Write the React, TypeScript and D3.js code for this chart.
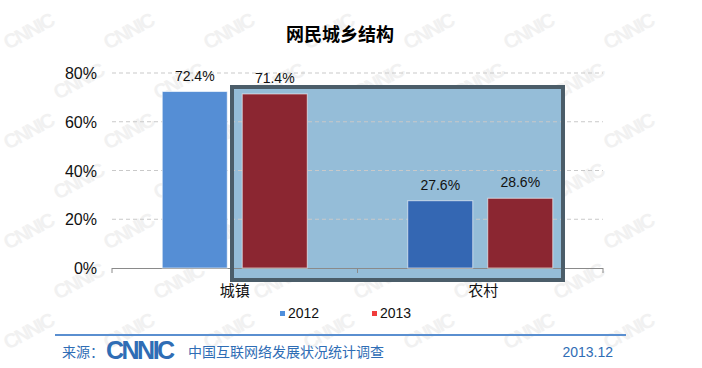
import { useEffect, useRef } from 'react';
import * as d3 from 'd3';

const categories = ['城镇', '农村'];
const years = ['2012', '2013'];
const values2012 = [0.724, 0.276];
const values2013 = [0.714, 0.286];
const yTicks = [0, 0.2, 0.4, 0.6, 0.8];

const W = 702;
const H = 368;
const FONT = '"Liberation Sans", Arial, "Noto Sans CJK SC", sans-serif';
const CJK = '"Noto Sans CJK SC", "Liberation Sans", sans-serif';

const App = () => {
  const ref = useRef<SVGSVGElement>(null);

  useEffect(() => {
    const svg = d3.select(ref.current);
    svg.selectAll('*').remove();

    // faint watermark pattern, kept inside the picture
    const wm = svg.append('g').attr('fill', '#f1f1f1').style('font-family', FONT);
    for (let row = 0; row < 7; row++) {
      for (let col = 0; col < 7; col++) {
        const x = col * 100 + (row % 2) * 50 + 8;
        const y = row * 50 + 50;
        if (x > 610 || y > 360) continue;
        wm.append('text')
          .attr('transform', `translate(${x},${y}) rotate(-28)`)
          .attr('font-size', 20)
          .attr('font-weight', 900)
          .attr('letter-spacing', -2)
          .text('CNNIC');
      }
    }

    const x0 = d3.scaleBand().domain(categories).range([112, 603]);
    const x1 = d3.scaleBand().domain(years).range([-72.5, 72.5]).paddingInner(0.1875);
    const y = d3.scaleLinear().domain([0, 0.8]).range([268, 73]);

    // highlight box fill
    svg.append('rect')
      .attr('x', 232).attr('y', 87)
      .attr('width', 331).attr('height', 193)
      .attr('fill', '#95bdd8');

    // grid
    svg.append('g')
      .selectAll('line')
      .data(yTicks.filter((d) => d > 0))
      .join('line')
      .attr('x1', 112).attr('x2', 603)
      .attr('y1', (d) => y(d)).attr('y2', (d) => y(d))
      .attr('stroke', '#c9c9c9')
      .attr('stroke-dasharray', '4,3');

    // y labels
    svg.append('g')
      .selectAll('text')
      .data(yTicks)
      .join('text')
      .attr('x', 97)
      .attr('y', (d) => y(d) + 6)
      .attr('text-anchor', 'end')
      .attr('font-size', 16)
      .attr('font-family', FONT)
      .attr('fill', '#111')
      .text((d) => d3.format('.0%')(d));

    // x axis
    svg.append('line')
      .attr('x1', 112).attr('x2', 603).attr('y1', 268.5).attr('y2', 268.5)
      .attr('stroke', '#8a8a8a');
    svg.append('g')
      .selectAll('line')
      .data([112, 357.5, 603])
      .join('line')
      .attr('x1', (d) => d).attr('x2', (d) => d)
      .attr('y1', 268).attr('y2', 273)
      .attr('stroke', '#8a8a8a');

    const series = [
      { year: '2012', values: values2012, colors: ['#558ed5', '#3467b3'] },
      { year: '2013', values: values2013, colors: ['#8b2631', '#8b2631'] },
    ];

    series.forEach((s) => {
      const g = svg.append('g');
      g.selectAll('rect')
        .data(categories)
        .join('rect')
        .attr('x', (c) => x0(c)! + x0.bandwidth() / 2 + x1(s.year)!)
        .attr('y', (_c, i) => y(s.values[i]))
        .attr('width', x1.bandwidth())
        .attr('height', (_c, i) => y(0) - y(s.values[i]))
        .attr('fill', (_c, i) => s.colors[i])
        .attr('stroke', 'rgba(255,255,255,0.6)')
        .attr('stroke-width', 1);
      g.selectAll('text')
        .data(categories)
        .join('text')
        .attr('x', (c) => x0(c)! + x0.bandwidth() / 2 + x1(s.year)! + x1.bandwidth() / 2)
        .attr('y', (_c, i) => y(s.values[i]) - 11)
        .attr('text-anchor', 'middle')
        .attr('font-size', 14)
        .attr('font-family', FONT)
        .attr('fill', '#111')
        .text((_c, i) => d3.format('.1%')(s.values[i]));
    });

    // highlight box border
    svg.append('rect')
      .attr('x', 232).attr('y', 87)
      .attr('width', 331).attr('height', 193)
      .attr('fill', 'none')
      .attr('stroke', '#4b5d69')
      .attr('stroke-width', 4);

    // category labels
    svg.append('g')
      .selectAll('text')
      .data(categories)
      .join('text')
      .attr('x', (c) => x0(c)! + x0.bandwidth() / 2 + (c === '农村' ? 3 : 0))
      .attr('y', 296)
      .attr('text-anchor', 'middle')
      .attr('font-size', 15)
      .attr('font-family', CJK)
      .attr('fill', '#111')
      .text((c) => c);

    // legend
    const legend = svg.append('g').attr('font-family', FONT).attr('font-size', 14);
    [
      { label: '2012', color: '#4f8fdc', x: 280 },
      { label: '2013', color: '#f03c3c', x: 372 },
    ].forEach((l) => {
      legend.append('rect').attr('x', l.x).attr('y', 311).attr('width', 5).attr('height', 5).attr('fill', l.color);
      legend.append('text').attr('x', l.x + 8).attr('y', 318).attr('fill', '#111').text(l.label);
    });

    // title
    svg.append('text')
      .attr('x', 340).attr('y', 41)
      .attr('text-anchor', 'middle')
      .attr('font-size', 18)
      .attr('font-weight', 'bold')
      .attr('font-family', CJK)
      .attr('fill', '#000')
      .text('网民城乡结构');

    // footer
    svg.append('line')
      .attr('x1', 55).attr('x2', 626).attr('y1', 335).attr('y2', 335)
      .attr('stroke', '#5a8fd0').attr('stroke-width', 2);
    const blue = '#2f6db5';
    svg.append('text')
      .attr('x', 62).attr('y', 357)
      .attr('font-size', 14).attr('font-family', CJK).attr('fill', blue)
      .text('来源：');
    svg.append('text')
      .attr('x', 106).attr('y', 359)
      .attr('font-size', 25).attr('font-weight', 900).attr('letter-spacing', -2.5)
      .attr('font-family', FONT).attr('fill', blue)
      .text('CNNIC');
    svg.append('text')
      .attr('x', 188).attr('y', 357)
      .attr('font-size', 14).attr('font-family', CJK).attr('fill', blue)
      .text('中国互联网络发展状况统计调查');
    svg.append('text')
      .attr('x', 613).attr('y', 357)
      .attr('text-anchor', 'end')
      .attr('font-size', 14).attr('font-family', FONT).attr('fill', blue)
      .text('2013.12');
  }, []);

  return (
    <svg
      ref={ref}
      width={W}
      height={H}
      style={{ position: 'absolute', left: 0, top: 0, background: '#fff' }}
    />
  );
};

export default App;
